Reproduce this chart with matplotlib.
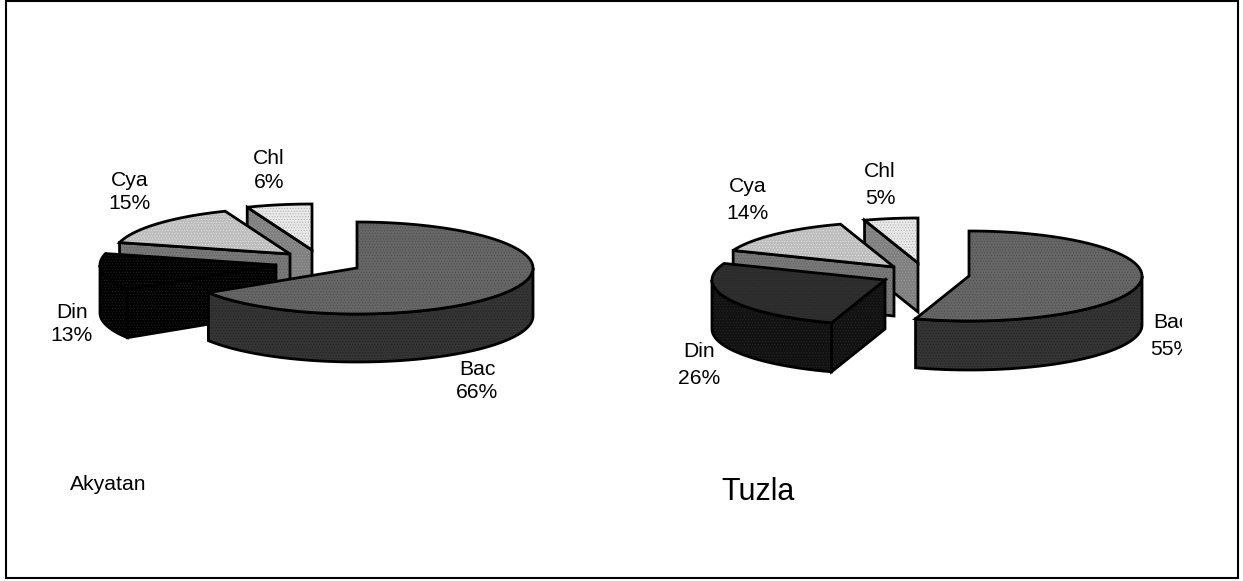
import numpy as np
import matplotlib
matplotlib.use("Agg")
import matplotlib.pyplot as plt
from matplotlib.patches import Polygon, Rectangle

plt.rcParams['font.family'] = ['Liberation Sans', 'DejaVu Sans']
plt.rcParams['hatch.linewidth'] = 0.35

# Phytoplankton / bacteria composition (%) at the two sites
categories = ["Bac", "Din", "Cya", "Chl"]
akyatan_values = [66, 13, 15, 6]
tuzla_values = [55, 26, 14, 5]

# Exploded slice apex per category, in figure pixels
akyatan_apex = [(357, 268), (276, 265), (290, 254), (312, 250)]
tuzla_apex = [(969, 276), (885, 280), (894, 267), (918, 263)]

# Face colours per category: top fill, top texture, side fill, side texture
top_fill = {"Bac": "#666666", "Din": "#000000", "Cya": "#bdbdbd", "Chl": "#e8e8e8"}
top_tex = {"Bac": "#4a4a4a", "Din": "#262626", "Cya": "#e6e6e6", "Chl": "#a8a8a8"}
side_fill = {"Bac": "#343434", "Din": "#000000", "Cya": "#787878", "Chl": "#808080"}
side_tex = {"Bac": "#222222", "Din": "#262626", "Cya": "#5c5c5c", "Chl": "#9a9a9a"}
top_fill_tuzla_din = "#2e2e2e"
side_fill_tuzla_din = "#121212"

LW = 2.0

fig = plt.figure(figsize=(12.43, 5.81), dpi=100)
ax = fig.add_axes([0, 0, 1, 1])
ax.set_xlim(0, 1243)
ax.set_ylim(581, 0)
ax.axis("off")

ax.add_patch(Rectangle((6, 0.5), 1232, 577, fc="white", ec="black", lw=1.5, zorder=0))


def rim(apex, rx, ry, a_deg):
    a = np.radians(a_deg)
    return apex[0] + rx * np.sin(a), apex[1] - ry * np.cos(a)


def face(pts, fill, tex, z):
    ax.add_patch(Polygon(pts, closed=True, fc=fill, ec="none", zorder=z))
    ax.add_patch(Polygon(pts, closed=True, fc="none", ec=tex, lw=0, hatch="......", zorder=z))
    ax.add_patch(Polygon(pts, closed=True, fc="none", ec="black", lw=LW, joinstyle="miter", zorder=z))


def pie3d(values, apexes, rx, ry, depth, is_tuzla):
    start = 0.0
    slices = []
    for name, val, apex in zip(categories, values, apexes):
        slices.append((name, start, start + val * 3.6, apex))
        start += val * 3.6
    # Back slices first, so that the large front slice overlaps the others
    for z, (name, a0, a1, apex) in zip([8, 7, 6, 5], slices):
        tf, sf = top_fill[name], side_fill[name]
        if is_tuzla and name == "Din":
            tf, sf = top_fill_tuzla_din, side_fill_tuzla_din
        # Cut wall facing the viewer
        for a, visible in ((a0, np.sin(np.radians(a0)) < -1e-6), (a1, np.sin(np.radians(a1)) > 1e-6)):
            if visible:
                p = rim(apex, rx, ry, a)
                face([apex, p, (p[0], p[1] + depth), (apex[0], apex[1] + depth)], sf, side_tex[name], z)
        # Outer curved wall, the part on the near half of the ellipse
        lo, hi = max(a0, 90), min(a1, 270)
        if hi > lo:
            th = np.linspace(lo, hi, 80)
            upper = [rim(apex, rx, ry, t) for t in th]
            lower = [(x, y + depth) for x, y in upper[::-1]]
            face(upper + lower, sf, side_tex[name], z)
        # Top surface
        th = np.linspace(a0, a1, 120)
        face([apex] + [rim(apex, rx, ry, t) for t in th], tf, top_tex[name], z)


pie3d(akyatan_values, akyatan_apex, 176, 46, 48, False)
pie3d(tuzla_values, tuzla_apex, 173, 45, 49, True)

# Slice labels
LABEL_FS = 15.2
akyatan_label_xy = {"Chl": (269, 170.5), "Cya": (130, 192), "Din": (72, 324), "Bac": (477, 381)}
tuzla_label_xy = {"Chl": (880, 185), "Cya": (748, 200), "Din": (699, 365), "Bac": (1171, 336)}

for values, xy, spacing in ((akyatan_values, akyatan_label_xy, 1.3), (tuzla_values, tuzla_label_xy, 1.5)):
    for name, val in zip(categories, values):
        t = ax.text(xy[name][0], xy[name][1], f"{name}\n{val}%", ha="center", va="center",
                    fontsize=LABEL_FS, linespacing=spacing, color="black", zorder=20)
        if name == "Bac":
            t.set_clip_path(Rectangle((0, 0), 1182, 581, transform=ax.transData))
            t.set_clip_on(True)

# Site names
ax.text(70, 485, "Akyatan", fontsize=15.2, ha="left", va="center", color="black")
ax.text(721, 492, "Tuzla", fontsize=22, ha="left", va="center", color="black")

fig.savefig("out.png", dpi=100)
